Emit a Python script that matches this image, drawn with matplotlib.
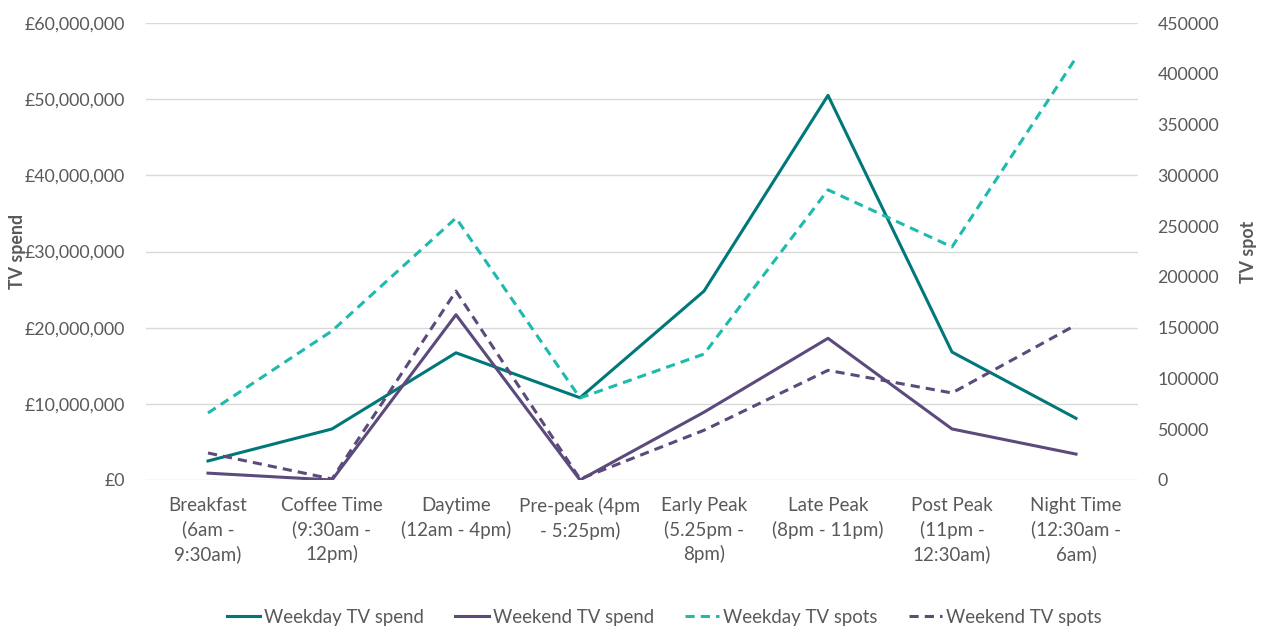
import matplotlib
matplotlib.use("Agg")
import matplotlib.pyplot as plt
from matplotlib.ticker import FuncFormatter, MultipleLocator

plt.rcParams['font.family'] = ['Lato', 'DejaVu Sans']

categories = ["Breakfast\n(6am -\n9:30am)", "Coffee Time\n(9:30am -\n12pm)", "Daytime\n(12am - 4pm)",
              "Pre-peak (4pm\n- 5:25pm)", "Early Peak\n(5.25pm -\n8pm)", "Late Peak\n(8pm - 11pm)",
              "Post Peak\n(11pm -\n12:30am)", "Night Time\n(12:30am -\n6am)"]
weekday_spend = [2.5e6, 6.7e6, 16.7e6, 10.8e6, 24.8e6, 50.5e6, 16.8e6, 8.1e6]
weekend_spend = [0.9e6, 0.0, 21.7e6, 0.0, 8.9e6, 18.6e6, 6.7e6, 3.4e6]
weekday_spots = [66000, 146800, 258000, 80800, 124000, 285700, 229500, 415700]
weekend_spots = [26600, 1000, 186000, 1000, 49000, 108000, 85700, 152700]

teal = "#00787A"
purple = "#5C4A7C"
teal_light = "#1DBAAE"
gray = "#595959"

fig = plt.figure(figsize=(12.61, 6.28), dpi=100)
ax = fig.add_axes([146/1261, 1-480/628, (1138-146)/1261, (480-23)/628])
ax2 = ax.twinx()

x = list(range(len(categories)))
l1, = ax.plot(x, weekday_spend, color=teal, lw=2.2, label="Weekday TV spend")
l2, = ax.plot(x, weekend_spend, color=purple, lw=2.2, label="Weekend TV spend")
l3, = ax2.plot(x, weekday_spots, color=teal_light, lw=2.2, ls=(0, (3, 2)), label="Weekday TV spots")
l4, = ax2.plot(x, weekend_spots, color=purple, lw=2.2, ls=(0, (3, 2)), label="Weekend TV spots")

ax.set_xlim(-0.5, len(categories) - 0.5)
ax.set_ylim(0, 60e6)
ax2.set_ylim(0, 450000)
ax.yaxis.set_major_locator(MultipleLocator(10e6))
ax2.yaxis.set_major_locator(MultipleLocator(50000))
ax.yaxis.set_major_formatter(FuncFormatter(lambda v, p: "£{:,.0f}".format(v)))
ax2.yaxis.set_major_formatter(FuncFormatter(lambda v, p: "{:.0f}".format(v)))

ax.set_xticks(x)
ax.set_xticklabels(categories, fontsize=13.5, color=gray, linespacing=1.45)
ax.tick_params(axis='x', length=0, pad=12)
ax.tick_params(axis='y', length=0, labelsize=12.8, labelcolor=gray, pad=15)
ax2.tick_params(axis='y', length=0, labelsize=12.8, labelcolor=gray, pad=14)

ax.grid(axis='y', color="#D9D9D9", lw=1)
ax.set_axisbelow(True)
for a in (ax, ax2):
    for s in a.spines.values():
        s.set_visible(False)

ax.set_ylabel("TV spend", fontsize=12.8, color=gray, fontweight='bold')
ax2.set_ylabel("TV spot", fontsize=12.8, color=gray, fontweight='bold')
ax.yaxis.set_label_coords((26-146)/992, 0.5)
ax2.yaxis.set_label_coords((1240-146)/992, 0.5)

fig.legend(handles=[l1, l2, l3, l4], loc='center', bbox_to_anchor=(664/1261, 1-617/628),
           ncol=4, frameon=False, fontsize=13.4, labelcolor=gray, handlelength=1.8,
           handletextpad=0.2, columnspacing=1.7)

fig.savefig("out.png", dpi=100)
